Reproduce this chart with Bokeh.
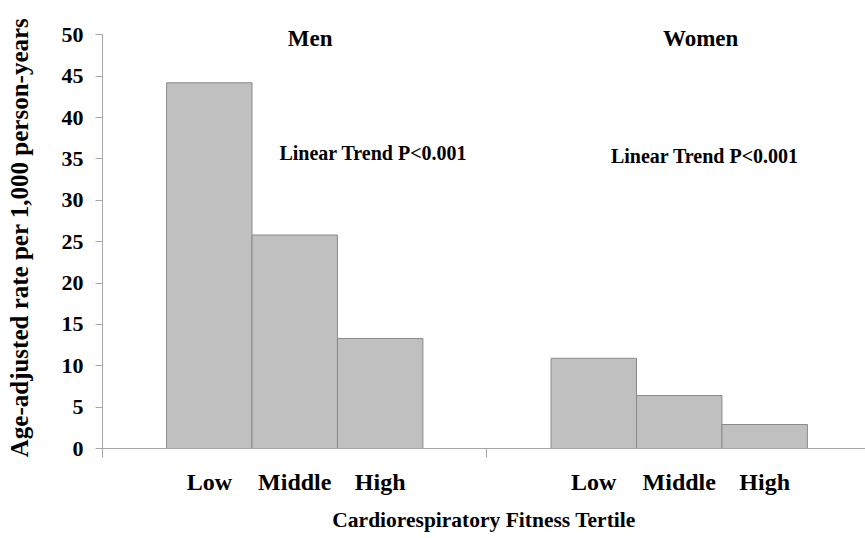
from bokeh.plotting import figure
from bokeh.models import Range1d, FixedTicker, ColumnDataSource
from bokeh.core.properties import value
from bokeh.embed import file_html
from bokeh.resources import INLINE

# ---- data ----
groups = ["Men", "Women"]
tertiles = ["Low", "Middle", "High"]
men_rates = [44.2, 25.8, 13.3]
women_rates = [10.9, 6.4, 2.9]
y_ticks = [0, 5, 10, 15, 20, 25, 30, 35, 40, 45, 50]
trend_text = "Linear Trend P<0.001"
x_title = "Cardiorespiratory Fitness Tertile"
y_title = "Age-adjusted rate per 1,000 person-years"

FONT = "Liberation Serif"
GROUP_W = 4.5   # 3 bars + 150% gap
xs = []
tops = []
labels = []
for gi, rates in enumerate([men_rates, women_rates]):
    for ti, r in enumerate(rates):
        xs.append(gi * GROUP_W + 0.75 + ti + 0.5)
        tops.append(r)
        labels.append(tertiles[ti])

src = ColumnDataSource(dict(x=xs, top=tops))

p = figure(width=865, height=538, output_backend="svg", toolbar_location=None,
           x_range=Range1d(0, 8.93), y_range=Range1d(0, 51),
           min_border_left=102, min_border_right=0, min_border_top=26, min_border_bottom=90)
p.outline_line_color = None
p.grid.visible = False
p.background_fill_color = "white"

p.vbar(x="x", top="top", width=1.0, source=src, fill_color="#c0c0c0",
       line_color="#8a8a8a", line_width=1)

AX = "#a6a6a6"
# y axis
ya = p.yaxis[0]
ya.ticker = FixedTicker(ticks=y_ticks)
ya.bounds = (0, 50)
ya.axis_line_color = AX
ya.major_tick_line_color = AX
ya.major_tick_out = 7
ya.major_tick_in = 0
ya.minor_tick_line_color = None
ya.major_label_text_font = FONT
ya.major_label_text_font_style = "bold"
ya.major_label_text_font_size = "22px"
ya.major_label_text_color = "black"
ya.major_label_standoff = 12
ya.axis_label = y_title
ya.axis_label_text_font = FONT
ya.axis_label_text_font_style = "bold"
ya.axis_label_text_font_size = "25px"
ya.axis_label_text_color = "black"
ya.axis_label_standoff = 26

# x axis
centers = xs
xa = p.xaxis[0]
xa.ticker = FixedTicker(ticks=centers, minor_ticks=[0, GROUP_W, 2 * GROUP_W])
xa.major_label_overrides = {c: l for c, l in zip(centers, labels)}
xa.axis_line_color = AX
xa.major_tick_out = 0
xa.major_tick_in = 0
xa.major_tick_line_color = None
xa.minor_tick_line_color = AX
xa.minor_tick_out = 9
xa.minor_tick_in = 0
xa.major_label_text_font = FONT
xa.major_label_text_font_style = "bold"
xa.major_label_text_font_size = "24px"
xa.major_label_text_color = "black"
xa.major_label_standoff = 11
xa.axis_label = x_title
xa.axis_label_text_font = FONT
xa.axis_label_text_font_style = "bold"
xa.axis_label_text_font_size = "21.5px"
xa.axis_label_text_color = "black"
xa.axis_label_standoff = 10

# group titles and trend annotations
p.text(x=[2.43, 7.0], y=[49.5, 49.5], text=groups, text_font=value(FONT),
       text_font_style="bold", text_font_size="23px", text_align="center",
       text_baseline="middle", text_color="black")
p.text(x=[3.17, 7.05], y=[35.7, 35.4], text=[trend_text, trend_text], text_font=value(FONT),
       text_font_style="bold", text_font_size="20px", text_align="center",
       text_baseline="middle", text_color="black")

open("out.html", "w").write(file_html(p, INLINE))
